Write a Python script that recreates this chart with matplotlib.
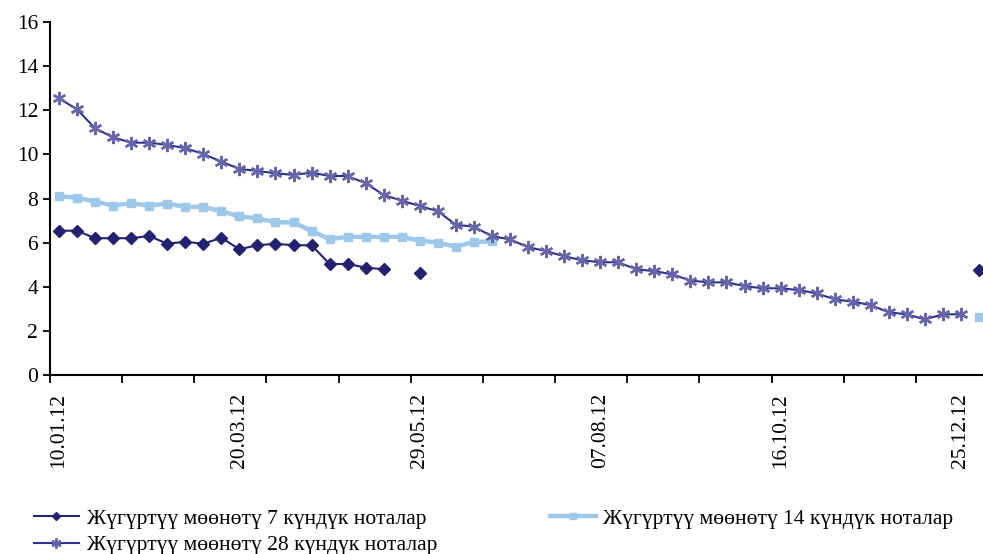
import numpy as np
import pandas as pd
import matplotlib
matplotlib.use("Agg")
import matplotlib.pyplot as plt
from matplotlib.ticker import FixedLocator

nan = np.nan

# weekly auction dates, 10.01.12 ... 01.01.13
dates = pd.date_range("2012-01-10", periods=52, freq="7D")
tick_labels = ["10.01.12", "20.03.12", "29.05.12", "07.08.12", "16.10.12", "25.12.12"]

notes_7 = [6.54, 6.54, 6.20, 6.20, 6.20, 6.30, 5.95, 6.04, 5.95, 6.22,
           5.70, 5.88, 5.95, 5.88, 5.88, 5.03, 5.03, 4.87, 4.79, nan,
           4.61] + [nan] * 30 + [4.77]

notes_14 = [8.10, 8.04, 7.86, 7.68, 7.78, 7.68, 7.77, 7.62, 7.62, 7.42,
            7.19, 7.10, 6.92, 6.92, 6.53, 6.16, 6.26, 6.26, 6.26, 6.26,
            6.09, 6.00, 5.82, 6.03, 6.06] + [nan] * 26 + [2.61]

notes_28 = [12.54, 12.04, 11.18, 10.77, 10.53, 10.53, 10.43, 10.28, 10.02, 9.67,
            9.34, 9.25, 9.14, 9.07, 9.17, 9.02, 9.02, 8.69, 8.16, 7.90,
            7.66, 7.42, 6.81, 6.72, 6.29, 6.15, 5.79, 5.62, 5.38, 5.20,
            5.11, 5.11, 4.79, 4.71, 4.56, 4.28, 4.20, 4.20, 4.03, 3.93,
            3.93, 3.85, 3.70, 3.43, 3.32, 3.17, 2.84, 2.75, 2.52, 2.75,
            2.75, nan]

names = ["Жүгүртүү мөөнөтү 7 күндүк ноталар",
         "Жүгүртүү мөөнөтү 14 күндүк ноталар",
         "Жүгүртүү мөөнөтү 28 күндүк ноталар"]

plt.rcParams["font.family"] = ["Liberation Serif", "DejaVu Serif"]

fig = plt.figure(figsize=(9.83, 5.54), dpi=100)
ax = fig.add_axes([50 / 983, 1 - 375 / 554, 933 / 983, 353 / 554])

x = np.arange(len(dates))
l7, = ax.plot(x, notes_7, color="#222270", lw=1.5, marker="D", ms=6,
              mec="#222270", mfc="#222270")
l14, = ax.plot(x, notes_14, color="#9DC8EA", lw=3.2, marker="s", ms=6,
               mec="#9DC8EA", mfc="#9DC8EA")
l28, = ax.plot(x, notes_28, color="#2E3192", lw=1.5, marker=(6, 2, 0), ms=9.5,
               mec="#6666A8", mew=1.7)

ax.set_xlim(-0.5, 51.22)
ax.set_ylim(0, 16)
ax.set_yticks(range(0, 17, 2))
ax.tick_params(axis="y", labelsize=15.5, length=5, width=1.3, direction="out")

# labels every 10 weeks, tick marks every 4 weeks (between categories)
label_pos = [i for i, d in enumerate(dates) if d.strftime("%d.%m.%y") in tick_labels]
ax.set_xticks(label_pos)
ax.set_xticklabels([dates[i].strftime("%d.%m.%y") for i in label_pos],
                   rotation=90, fontsize=15.5)
ax.tick_params(axis="x", which="major", length=0, pad=13)
ax.xaxis.set_minor_locator(FixedLocator(np.arange(-0.5, 52, 4)))
ax.tick_params(axis="x", which="minor", length=6, width=1.3, direction="out")

for s in ["top", "right"]:
    ax.spines[s].set_visible(False)
for s in ["left", "bottom"]:
    ax.spines[s].set_linewidth(1.5)

fig.legend([l7, l28, l14], [names[0], names[2], names[1]], ncol=2,
           loc="upper left", bbox_to_anchor=(23 / 983, 1 - 498 / 554),
           frameon=False, fontsize=15.5, handlelength=2.1, handletextpad=0.35,
           columnspacing=5.27, labelspacing=0.29, borderpad=0, markerscale=0.75)

fig.savefig("out.png", dpi=100)
